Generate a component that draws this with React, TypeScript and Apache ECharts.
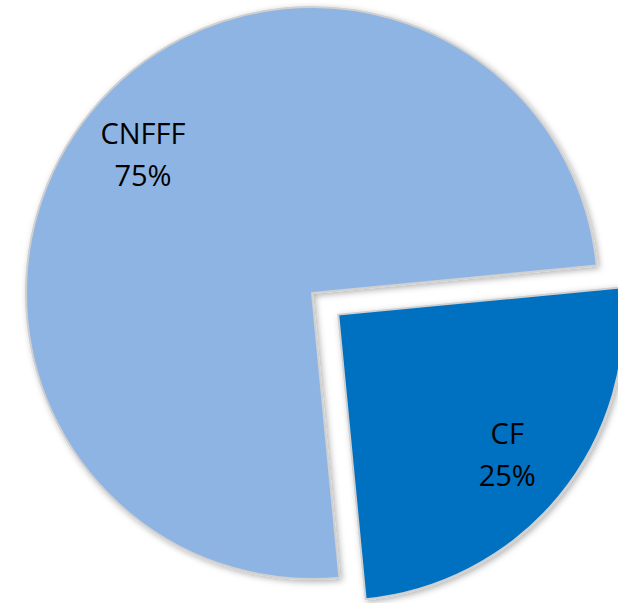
import React, { useEffect, useRef } from "react";
import * as echarts from "echarts";

const categories = ["CF", "CNFFF"];
const shares = [25, 75];
const sliceColors = ["#0070C0", "#8EB4E3"];
const explodedCategory = "CF";

export default function App() {
  const ref = useRef<HTMLDivElement>(null);
  useEffect(() => {
    if (!ref.current) return;
    const chart = echarts.init(ref.current, undefined, { renderer: "svg" });
    const sliceData = categories.map((name, i) => ({
      name,
      value: shares[i],
      selected: name === explodedCategory,
      itemStyle: { color: sliceColors[i] },
    }));
    const labelData = categories.map((name, i) => ({
      name,
      value: shares[i],
      selected: name === explodedCategory,
    }));
    chart.setOption({
      animation: false,
      backgroundColor: "#ffffff",
      series: [
        {
          type: "pie",
          center: [312, 293],
          radius: [0, 286],
          startAngle: 5.5,
          clockwise: true,
          selectedMode: "single",
          selectedOffset: 34,
          avoidLabelOverlap: false,
          silent: true,
          emphasis: { disabled: true, scale: false },
          itemStyle: {
            borderColor: "#d0d0d0",
            borderWidth: 2,
            shadowBlur: 6,
            shadowColor: "rgba(0,0,0,0.3)",
            shadowOffsetX: 2,
            shadowOffsetY: 2,
          },
          label: { show: false },
          labelLine: { show: false },
          data: sliceData,
        },
        {
          type: "pie",
          center: [312, 293],
          radius: [0, 432],
          startAngle: 5.5,
          clockwise: true,
          selectedMode: "single",
          selectedOffset: 34,
          avoidLabelOverlap: false,
          silent: true,
          z: 5,
          emphasis: { disabled: true, scale: false },
          itemStyle: { color: "rgba(0,0,0,0)", borderWidth: 0 },
          label: {
            show: true,
            position: "inside",
            formatter: (p: any) => `${p.name}\n${p.percent}%`,
            color: "#000000",
            fontFamily: "Open Sans",
            fontSize: 29,
            lineHeight: 42,
            align: "center",
          },
          labelLine: { show: false },
          data: labelData,
        },
      ],
    });
    return () => chart.dispose();
  }, []);
  return (
    <div
      ref={ref}
      style={{ position: "fixed", left: 0, top: 0, width: 618, height: 603 }}
    />
  );
}
